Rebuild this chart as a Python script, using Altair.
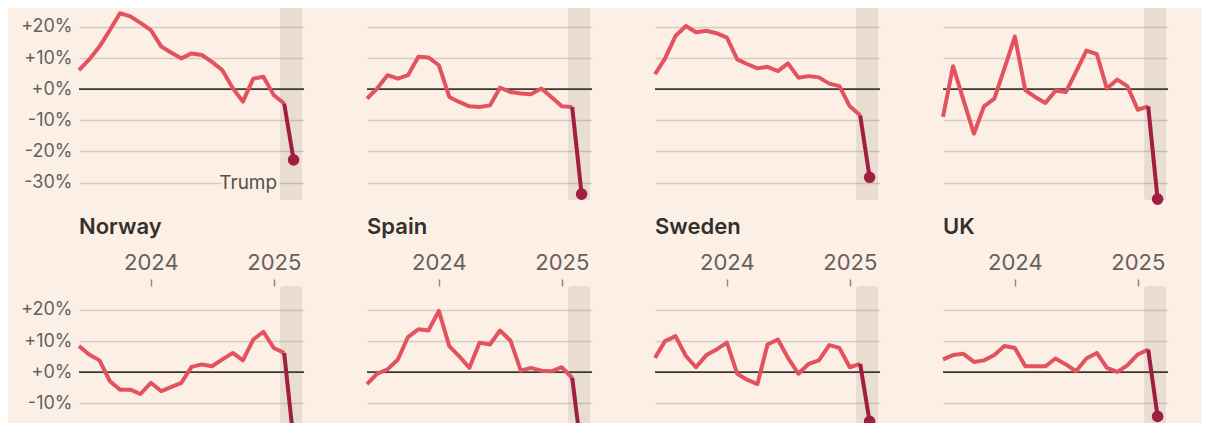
import altair as alt
import pandas as pd

# ---------------- data ----------------
MONTHS = [
    "2023-06-01T00:00:00", "2023-07-01T00:00:00", "2023-08-01T00:00:00", "2023-09-01T00:00:00",
    "2023-10-01T00:00:00", "2023-11-01T00:00:00", "2023-12-01T00:00:00", "2024-01-01T00:00:00",
    "2024-02-01T00:00:00", "2024-03-01T00:00:00", "2024-04-01T00:00:00", "2024-05-01T00:00:00",
    "2024-06-01T00:00:00", "2024-07-01T00:00:00", "2024-08-01T00:00:00", "2024-09-01T00:00:00",
    "2024-10-01T00:00:00", "2024-11-01T00:00:00", "2024-12-01T00:00:00", "2025-01-01T00:00:00",
    "2025-02-01T00:00:00", "2025-03-01T00:00:00",
]

COUNTRIES = ["Germany", "Ireland", "Italy", "Netherlands", "Norway", "Spain", "Sweden", "UK"]

GERMANY = [6.1, 9.5, 13.7, 19.0, 24.4, 23.4, 21.3, 19.0, 13.7, 11.8, 9.9, 11.5, 11.0, 8.8, 6.1,
           0.3, -4.0, 3.4, 4.0, -1.9, -4.6, -22.7]
IRELAND = [-3.0, 0.2, 4.5, 3.4, 4.5, 10.4, 10.2, 7.7, -2.5, -4.1, -5.5, -5.7, -5.2, 0.5, -0.9,
           -1.4, -1.6, 0.2, -2.5, -5.5, -5.7, -33.7]
ITALY = [4.8, 9.9, 17.1, 20.3, 18.3, 18.8, 18.0, 16.6, 9.6, 8.1, 6.7, 7.2, 5.8, 8.3, 3.7,
         4.2, 3.8, 1.8, 1.0, -5.5, -8.4, -28.3]
NETHERLANDS = [-8.9, 7.4, -3.5, -14.3, -5.5, -3.0, 6.7, 16.9, -0.3, -2.5, -4.4, -0.5, -0.9, 5.6, 12.4,
               11.3, 0.2, 3.1, 1.0, -6.6, -5.5, -35.3]
NORWAY = [8.4, 5.7, 3.8, -2.9, -5.6, -5.6, -7.0, -3.4, -6.1, -4.8, -3.4, 1.7, 2.5, 1.9, 4.1,
          6.2, 3.8, 10.5, 13.0, 7.8, 6.2, -22.0]
SPAIN = [-3.8, -0.5, 0.9, 4.1, 11.3, 13.8, 13.4, 19.7, 8.4, 5.2, 1.4, 9.5, 8.9, 13.4, 10.2,
         0.5, 1.4, 0.5, 0.3, 1.6, -1.8, -26.0]
SWEDEN = [4.6, 10.0, 11.6, 5.2, 1.6, 5.5, 7.3, 9.5, -0.5, -2.4, -3.8, 8.9, 10.5, 4.6, -0.5,
          2.7, 3.8, 8.7, 7.8, 1.6, 2.7, -15.8]
UK = [4.1, 5.5, 5.9, 3.3, 3.8, 5.5, 8.4, 7.8, 1.9, 1.9, 1.9, 4.4, 2.5, 0.3, 4.4,
      6.2, 1.4, 0.1, 2.2, 5.7, 7.3, -14.2]

SERIES = [GERMANY, IRELAND, ITALY, NETHERLANDS, NORWAY, SPAIN, SWEDEN, UK]

BAND_START = "2025-01-20T00:00:00"
BAND_END = "2025-03-26T00:00:00"
TRUMP_LABEL = "Trump"
Y_TICKS = [-30, -20, -10, 0, 10, 20]

# ---------------- style ----------------
FONT = "Inter"
BG = "#fcf0e6"
LIGHT = "#e3525f"
DARK = "#a01e42"
GRID = "#d6cbc1"
ZERO = "#3d3935"
LABEL = "#66605c"
TITLE = "#33302e"
W, H = 225, 197
Y_DOMAIN = [-35.6, 27.7]
X_DOMAIN = [alt.DateTime(year=2023, month=6, date=1), alt.DateTime(year=2025, month=4, date=1)]

xaxis = alt.Axis(
    orient="top",
    values=[alt.DateTime(year=2024, month=1, date=1), alt.DateTime(year=2025, month=1, date=1)],
    format="%Y", labelFont=FONT, labelFontSize=22, labelColor=LABEL, labelBaseline="alphabetic",
    labelPadding=10, labelFlush=False, labelOverlap=False, tickSize=7, tickColor="#8f8781",
    tickWidth=1.5, domain=False, grid=False,
)


def yaxis(show):
    return alt.Axis(
        values=Y_TICKS, grid=True, gridColor=GRID, gridWidth=1.5, domain=False, ticks=False,
        tickSize=0, labels=show, labelFont=FONT, labelFontSize=18, labelColor=LABEL, labelPadding=7,
        labelExpr="(datum.value >= 0 ? '+' : '') + datum.value + '%'",
    )


xs = alt.Scale(domain=X_DOMAIN)
ys = alt.Scale(domain=Y_DOMAIN, nice=False, zero=False)


def panel(name, vals, first):
    df = pd.DataFrame({"date": MONTHS, "value": vals})
    light = df.iloc[:-1]
    dark = df.iloc[-2:]
    last = df.iloc[-1:]
    X = alt.X("date:T", scale=xs, axis=xaxis, title=None)
    Y = alt.Y("value:Q", scale=ys, axis=yaxis(first), title=None)

    band = alt.Chart(pd.DataFrame({"date": [BAND_START], "end": [BAND_END]})).mark_rect(
        color="#8a7866", opacity=0.16, cornerRadiusTopLeft=3, cornerRadiusTopRight=3
    ).encode(x=X, x2="end:T", y=alt.value(0), y2=alt.value(H))
    zero = alt.Chart(pd.DataFrame({"value": [0]})).mark_rule(color=ZERO, strokeWidth=1.8).encode(y=Y)
    l1 = alt.Chart(light).mark_line(color=LIGHT, strokeWidth=4, strokeJoin="round").encode(x=X, y=Y)
    l2 = alt.Chart(dark).mark_line(color=DARK, strokeWidth=4, strokeJoin="round").encode(x=X, y=Y)
    dot = alt.Chart(last).mark_point(filled=True, color=DARK, opacity=1, size=135).encode(x=X, y=Y)
    layers = [band, zero, l1, l2, dot]
    if first:
        tdf = pd.DataFrame({"date": [BAND_START], "value": [-30], "label": [TRUMP_LABEL]})
        halo = alt.Chart(tdf).mark_text(
            align="right", baseline="middle", dx=-3, font=FONT, fontSize=19, color=BG,
            stroke=BG, strokeWidth=6
        ).encode(x=X, y=Y, text="label:N")
        txt = alt.Chart(tdf).mark_text(
            align="right", baseline="middle", dx=-3, font=FONT, fontSize=19, color="#57514d"
        ).encode(x=X, y=Y, text="label:N")
        layers += [halo, txt]
    return alt.layer(*layers).properties(
        width=W, height=H,
        title=alt.TitleParams(text=name, anchor="start", frame="group", font=FONT, fontSize=22,
                              fontWeight=600, color=TITLE, offset=12),
    )


panels = [panel(n, v, i % 4 == 0) for i, (n, v) in enumerate(zip(COUNTRIES, SERIES))]
row1 = alt.hconcat(*panels[:4], spacing=60)
row2 = alt.hconcat(*panels[4:], spacing=60)

chart = alt.vconcat(row1, row2, spacing=11).properties(
    padding={"left": 12, "top": -75, "right": 33, "bottom": 0},
    background=BG,
).configure_view(stroke=None)

chart.save("out.html", embed_options={"renderer": "svg", "actions": False})
